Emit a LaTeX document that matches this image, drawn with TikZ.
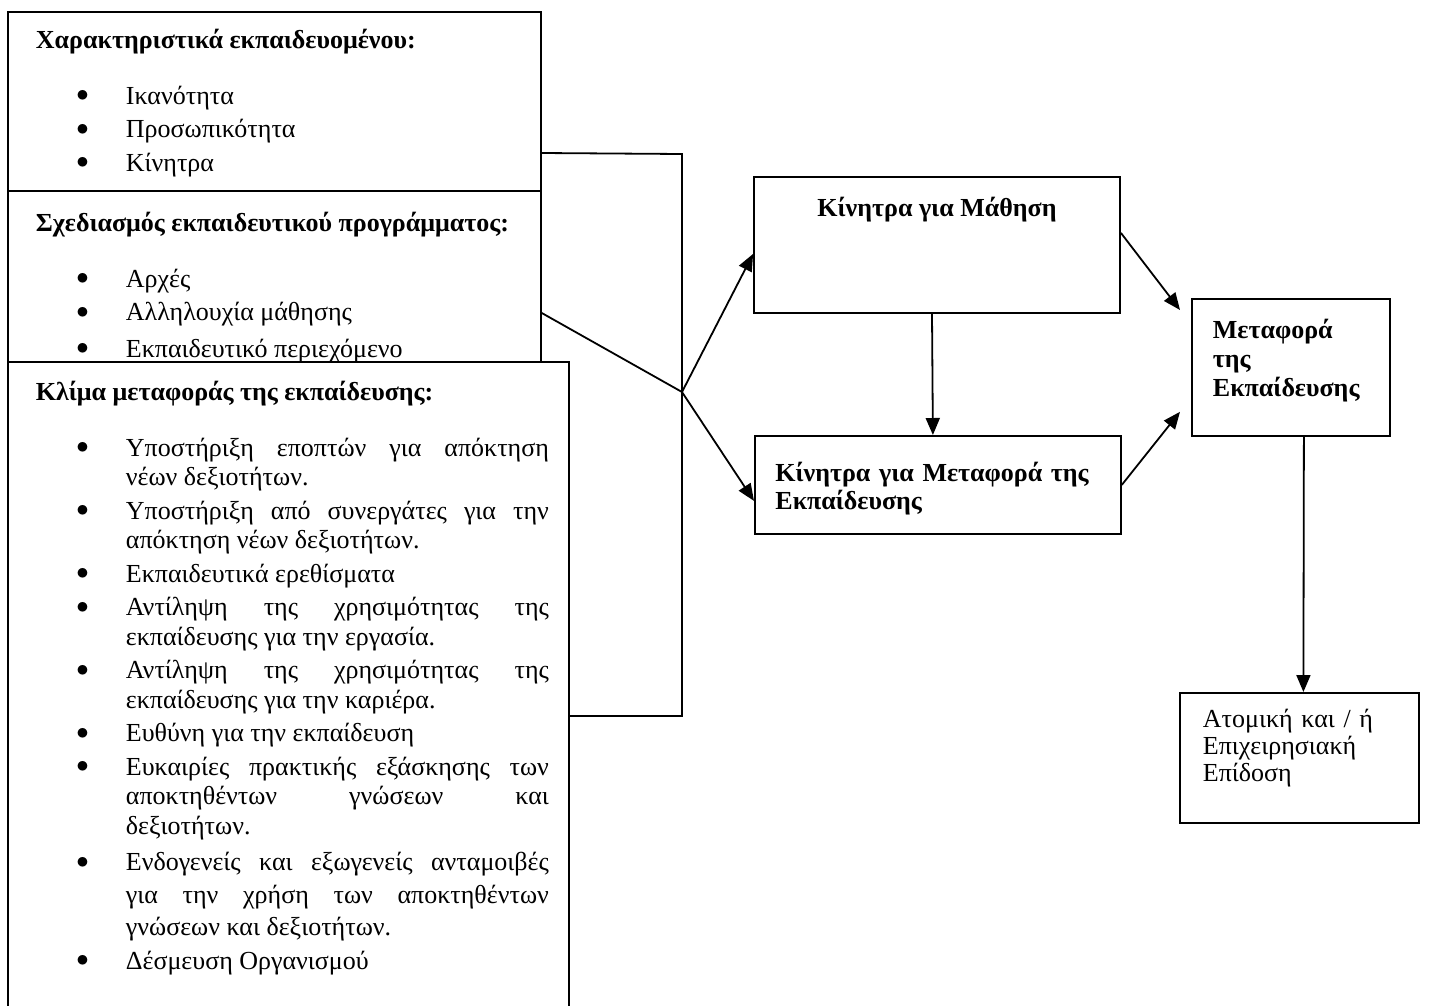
\documentclass[tikz,border=0pt]{standalone}
\usepackage{fontspec}
\setmainfont{Liberation Serif}
\usetikzlibrary{arrows.meta,calc}

\hyphenpenalty=10000
\exhyphenpenalty=10000
\tolerance=10000
\emergencystretch=2em

% list entry with a hanging bullet
\newcommand\bul[1]{\par\vspace{4pt}\hangindent=90pt\hangafter=1\noindent\makebox[90pt][l]{\hspace{40.5pt}\raisebox{2.5pt}{$\bullet$}}#1}

\begin{document}
\begin{tikzpicture}[x=1pt,y=-1pt,line width=1.8pt,
	font=\fontsize{26}{29.5}\selectfont,
	lbox/.style={draw,fill=white,anchor=north west,inner sep=0pt},
	rbox/.style={draw,anchor=north west,inner ysep=0pt,align=left},
	txt/.style={anchor=base west,inner sep=0pt,align=justify},
	arr/.style={-{Triangle[length=17pt,width=14pt]}}]
	\useasboundingbox (0,0) rectangle (1435,1005);

	% left column
	\node[lbox,minimum width=533pt,minimum height=179pt] (chars) at (7,11) {};
	\node[txt,text width=505pt] (charstxt) at (35,48) {{\bfseries Χαρακτηριστικά εκπαιδευομένου:}\par\vspace{22.5pt}
		\bul{Ικανότητα}
		\bul{Προσωπικότητα}
		\bul{Κίνητρα}};

	\node[lbox,minimum width=533pt,minimum height=171pt] (sxed) at (7,190) {};
	\node[txt,text width=505pt] (sxedtxt) at (35,231) {{\bfseries Σχεδιασμός εκπαιδευτικού προγράμματος:}\par\vspace{22.5pt}
		\bul{Αρχές}
		\bul{Αλληλουχία μάθησης}
		\par\vspace{3pt}\bul{Εκπαιδευτικό περιεχόμενο}};

	\node[lbox,minimum width=561pt,minimum height=650pt] (klima) at (7,361) {};
	\node[txt,text width=513pt] (klimatxt) at (35,400) {{\bfseries Κλίμα μεταφοράς της εκπαίδευσης:}\par\vspace{22.5pt}
		\bul{Υποστήριξη εποπτών για απόκτηση \linebreak νέων δεξιοτήτων.}
		\bul{Υποστήριξη από συνεργάτες για την \linebreak απόκτηση νέων δεξιοτήτων.}
		\bul{Εκπαιδευτικά ερεθίσματα}
		\bul{Αντίληψη της χρησιμότητας της \linebreak εκπαίδευσης για την εργασία.}
		\bul{Αντίληψη της χρησιμότητας της \linebreak εκπαίδευσης για την καριέρα.}
		\bul{Ευθύνη για την εκπαίδευση}
		\bul{Ευκαιρίες πρακτικής εξάσκησης των \linebreak αποκτηθέντων γνώσεων και \linebreak δεξιοτήτων.}
		\par{\fontsize{26}{32.5}\selectfont\bul{Ενδογενείς και εξωγενείς ανταμοιβές \linebreak για την χρήση των αποκτηθέντων \linebreak γνώσεων και δεξιοτήτων.}\par}
		\bul{Δέσμευση Οργανισμού}};

	% right part
	\node[rbox,anchor=north,minimum width=366pt,text height=40pt,text depth=96pt,font=\bfseries\fontsize{26}{29.5}\selectfont] (km) at (937,176) {Κίνητρα για Μάθηση};
	\node[rbox,text width=325pt,inner xsep=20.5pt,text height=46pt,text depth=52pt,font=\bfseries\fontsize{26}{28}\selectfont] (kmt) at (754,435) {Κίνητρα για Μεταφορά της\\Εκπαίδευσης};
	\node[rbox,text width=156pt,inner xsep=21pt,text height=40pt,text depth=97pt,font=\bfseries\fontsize{26}{29}\selectfont] (mt) at (1191,298) {Μεταφορά\\της\\Εκπαίδευσης};
	\node[rbox,text width=193pt,inner xsep=23pt,text height=35pt,text depth=95pt,font=\fontsize{26}{27}\selectfont] (ap) at (1179,692) {Ατομική και / ή\\Επιχειρησιακή\\Επίδοση};

	\coordinate (bend1) at (682,154);
	\coordinate (bend2) at (682,716);
	\coordinate (j) at (682,392);

	\draw ($(chars.north east)+(0,142)$) -- (bend1) -- (bend2) -- ($(klima.north east)+(0,355)$);
	\draw ($(sxed.north east)+(0,123)$) -- (j);
	\draw[arr] (j) -- ($(km.west)+(0,9)$);
	\draw[arr] (j) -- ($(kmt.west)+(0,16)$);
	\draw[arr] ($(km.south)+(-5,0)$) -- ($(kmt.north)+(-5,0)$);
	\draw[arr] ($(km.east)+(0,-12)$) -- ($(mt.north west)+(-11,12)$);
	\draw[arr] (kmt.east) -- ($(mt.south west)+(-11,-25)$);
	\draw[arr] ($(mt.south)+(13,0)$) -- ($(ap.north)+(4,0)$);
\end{tikzpicture}
\end{document}
